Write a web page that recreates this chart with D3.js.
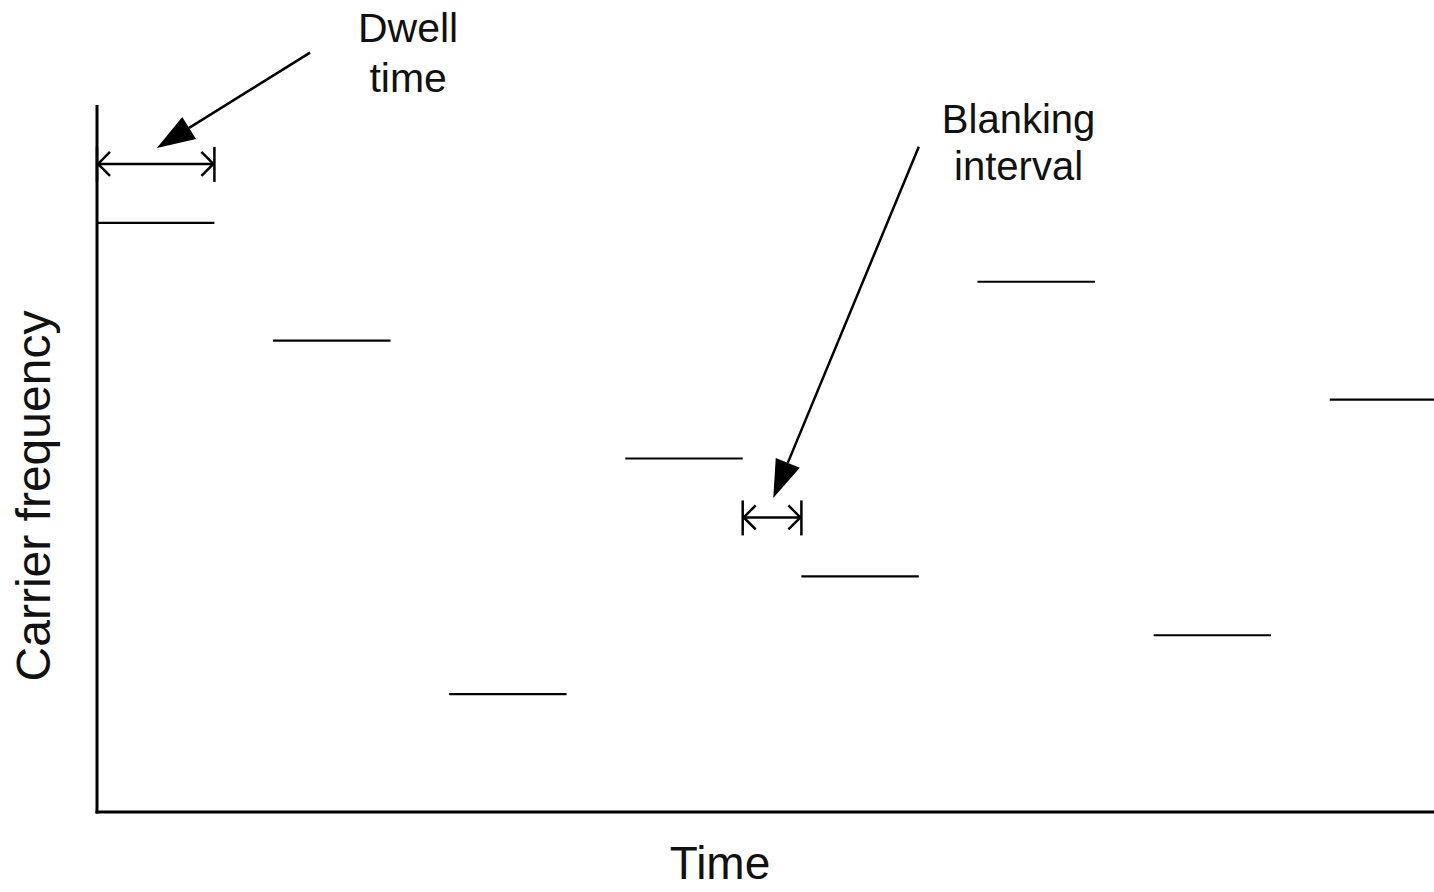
<!DOCTYPE html>
<meta charset="utf-8">
<html>
<head>
  <script src="https://d3js.org/d3.v7.min.js"></script>
  <style>
    body { margin: 0; background: #fff; }
    svg { display: block; font-family: "Liberation Sans", Arial, sans-serif; }
  </style>
</head>
<body>
  <svg width="1434" height="892"></svg>
  <script>
    // hop slots and the carrier frequency level used in each
    const hopSlots = [0, 1, 2, 3, 4, 5, 6, 7];
    const hopFreq = [10, 8, 2, 6, 4, 9, 3, 7];
    const dwellTime = 2, blankTime = 1;

    // annotations (data units)
    const dwellMarker = {x0: 0, x1: 2, y: 11};
    const blankMarker = {x0: 11, x1: 12, y: 5};
    const dwellPointer = {x0: 3.63, y0: 12.89, x1: 1.02, y1: 11.27};
    const blankPointer = {x0: 14.0, y0: 11.29, x1: 11.52, y1: 5.33};
    const dwellLabel = {x: 5.3, lines: ["Dwell", "time"], y: [13.07, 12.22]};
    const blankLabel = {x: 15.7, lines: ["Blanking", "interval"], y: [11.53, 10.73]};

    const svg = d3.select("svg");
    const x = d3.scaleLinear().domain([0, 23]).range([97, 97 + 23 * 58.7]);
    const y = d3.scaleLinear().domain([0, 12]).range([812, 105]);

    // axes
    svg.append("line").attr("x1", x(0)).attr("x2", x(0))
      .attr("y1", y(12)).attr("y2", y(0) + 1.5)
      .attr("stroke", "#000").attr("stroke-width", 3);
    svg.append("line").attr("x1", x(0) - 1.5).attr("x2", 1434)
      .attr("y1", y(0)).attr("y2", y(0))
      .attr("stroke", "#000").attr("stroke-width", 3);

    // hops
    svg.selectAll(".hop")
      .data(hopSlots)
      .enter().append("line")
        .attr("class", "hop")
        .attr("x1", d => x(d * (dwellTime + blankTime)))
        .attr("x2", d => x(d * (dwellTime + blankTime) + dwellTime))
        .attr("y1", (d, i) => y(hopFreq[i]))
        .attr("y2", (d, i) => y(hopFreq[i]))
        .attr("stroke", "#000").attr("stroke-width", 2.2);

    // dimension markers  |<--->|
    function dimension(m) {
      const g = svg.append("g").attr("stroke", "#000").attr("stroke-width", 2.5).attr("fill", "none");
      const xa = x(m.x0), xb = x(m.x1), yy = y(m.y);
      g.append("line").attr("x1", xa).attr("x2", xb).attr("y1", yy).attr("y2", yy);
      [xa, xb].forEach(xx => g.append("line").attr("x1", xx).attr("x2", xx).attr("y1", yy - 17).attr("y2", yy + 18));
      g.append("path").attr("d", `M${xa + 13},${yy - 12}L${xa + 1},${yy}L${xa + 13},${yy + 12}`);
      g.append("path").attr("d", `M${xb - 13},${yy - 12}L${xb - 1},${yy}L${xb - 13},${yy + 12}`);
    }
    dimension(dwellMarker);
    dimension(blankMarker);

    // pointer arrows with filled heads
    function pointer(p) {
      const ax = x(p.x0), ay = y(p.y0), bx = x(p.x1), by = y(p.y1);
      const len = Math.hypot(bx - ax, by - ay), ux = (bx - ax) / len, uy = (by - ay) / len;
      const hl = 38, hw = 13;
      const hx = bx - ux * hl, hy = by - uy * hl;
      svg.append("line").attr("x1", ax).attr("y1", ay).attr("x2", hx).attr("y2", hy)
        .attr("stroke", "#000").attr("stroke-width", 2.5);
      svg.append("path")
        .attr("d", `M${bx},${by}L${hx - uy * hw},${hy + ux * hw}L${hx + uy * hw},${hy - ux * hw}Z`)
        .attr("fill", "#000");
    }
    pointer(dwellPointer);
    pointer(blankPointer);

    [dwellLabel, blankLabel].forEach((l, k) => {
      l.lines.forEach((t, i) => {
        svg.append("text").attr("x", x(l.x)).attr("y", y(l.y[i]))
          .attr("text-anchor", "middle").attr("font-size", k ? 40 : 41)
          .attr("fill", "#111").text(t);
      });
    });

    // axis titles
    svg.append("text").attr("transform", "translate(50,496) rotate(-90)")
      .attr("text-anchor", "middle").attr("font-size", 48).attr("fill", "#111")
      .text("Carrier frequency");
    svg.append("text").attr("x", 720).attr("y", 879)
      .attr("text-anchor", "middle").attr("font-size", 46).attr("fill", "#111")
      .text("Time");
  </script>
</body>
</html>
